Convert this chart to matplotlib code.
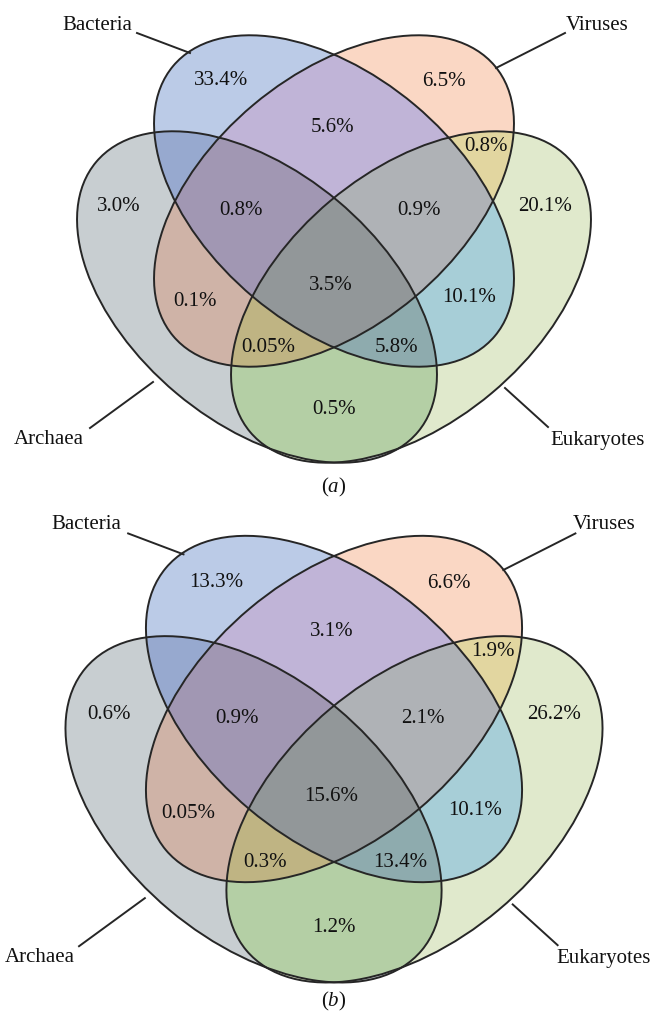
import numpy as np
import matplotlib
matplotlib.use("Agg")
import matplotlib.pyplot as plt
from matplotlib.patches import Ellipse

# four sets, one bit each
set_names = ["Bacteria", "Viruses", "Archaea", "Eukaryotes"]
set_keys = ["B", "V", "A", "E"]

# the 15 Venn regions (letters = sets the region belongs to)
regions = ["B", "V", "A", "E", "BV", "BA", "VA", "VE", "BE", "AE",
           "BVA", "BVE", "VAE", "BAE", "BVAE"]

# percentages per region, panel (a) and panel (b); None = not labelled
pct_a = [33.4, 6.5, 3.0, 20.1, 5.6, None, 0.1, 0.8, 10.1, 0.5,
         0.8, 0.9, 0.05, 5.8, 3.5]
pct_b = [13.3, 6.6, 0.6, 26.2, 3.1, None, 0.05, 1.9, 10.1, 1.2,
         0.9, 2.1, 0.3, 13.4, 15.6]

panel_tags = ["a", "b"]

# ---- layout / style ----
W, H = 654, 1015
ELL_W, ELL_H, ANG = 420, 251, 40
# ellipse centre offset (relative to inner-pair centre) and angle, per set
ell_geom = {"B": (0, 0, ANG), "V": (0, 0, -ANG),
            "A": (-77, 96, ANG), "E": (77, 96, -ANG)}
panel_pos = [(334, 201, 1.0), (334, 709, 1.045)]

region_colors = {
    "B": "#bbcbe8", "V": "#fad8c4", "A": "#c9ced2", "E": "#e0eacc",
    "BV": "#c0b5d8", "BA": "#97a9cf", "VA": "#cfb3a7", "VE": "#e3d6a0",
    "BE": "#a7ced8", "AE": "#b5cfa6", "BVA": "#a197b3", "BVE": "#afb2b6",
    "VAE": "#bfb583", "BAE": "#8eabae", "BVAE": "#92979a",
}
label_off = {
    "B": (-113, -123), "V": (110, -122), "A": (-215, 3), "E": (211, 3),
    "BV": (-2, -76), "BVA": (-93, 7), "BVE": (85, 7), "VE": (152, -57),
    "VA": (-139, 98), "BE": (135, 95), "BVAE": (-3, 82), "VAE": (-66, 145),
    "BAE": (63, 145), "AE": (0, 207),
}
name_off = {"B": (-237, -178), "V": (263, -178),
            "A": (-285, 236), "E": (264, 237)}
leader_off = {"B": ((-197, -168), (-144, -148)),
              "V": ((231, -168), (162, -133)),
              "A": ((-244, 227), (-181, 181)),
              "E": ((214, 226), (171, 187))}

plt.rcParams["font.family"] = ["Liberation Serif", "DejaVu Serif"]
plt.rcParams["mathtext.fontset"] = "custom"
plt.rcParams["mathtext.it"] = "Liberation Serif:italic"
plt.rcParams["mathtext.rm"] = "Liberation Serif"
FS = 15
EDGE = "#262626"
LW = 1.4


def fmt(v):
    return f"{v:.2f}%" if v < 0.1 else f"{v:.1f}%"


def inside(X, Y, cx, cy, w, h, ang):
    t = np.deg2rad(ang)
    dx, dy = X - cx, Y - cy
    u = dx * np.cos(t) + dy * np.sin(t)
    v = -dx * np.sin(t) + dy * np.cos(t)
    return (u / (w / 2)) ** 2 + (v / (h / 2)) ** 2 <= 1


fig = plt.figure(figsize=(W / 100, H / 100), dpi=100)
ax = fig.add_axes([0, 0, 1, 1])

# raster of region fills
xs = np.arange(0, W, 0.5) + 0.25
ys = np.arange(0, H, 0.5) + 0.25
X, Y = np.meshgrid(xs, ys)
img = np.ones(X.shape + (3,))

for (cx, cy, s), vals, tag in zip(panel_pos, [pct_a, pct_b], panel_tags):
    code = np.zeros(X.shape, dtype=int)
    for i, k in enumerate(set_keys):
        ox, oy, ang = ell_geom[k]
        code |= inside(X, Y, cx + ox * s, cy + oy * s,
                       ELL_W * s, ELL_H * s, ang).astype(int) << i
    for r in regions:
        bits = sum(1 << set_keys.index(c) for c in r)
        img[code == bits] = matplotlib.colors.to_rgb(region_colors[r])

    # outlines
    for k in set_keys:
        ox, oy, ang = ell_geom[k]
        ax.add_patch(Ellipse((cx + ox * s, cy + oy * s), ELL_W * s, ELL_H * s,
                             angle=ang, fill=False, ec=EDGE, lw=LW, zorder=3))

    # region percentages
    for r, v in zip(regions, vals):
        if v is None:
            continue
        dx, dy = label_off[r]
        ax.text(cx + dx * s, cy + dy * s + 2, fmt(v), fontsize=FS,
                ha="center", va="center", color="#111111", zorder=4)

    # set names + leader lines
    for k, name in zip(set_keys, set_names):
        dx, dy = name_off[k]
        x = min(max(cx + dx * s, 40), W - 50)   # keep names inside the figure
        ax.text(x, cy + dy * s + 2, name, fontsize=FS,
                ha="center", va="center", color="#111111", zorder=4)
        (x0, y0), (x1, y1) = leader_off[k]
        ax.plot([cx + x0 * s, cx + x1 * s], [cy + y0 * s, cy + y1 * s],
                color=EDGE, lw=LW, zorder=3)

    ax.text(cx, min(cy + 286 * s, H - 14), rf"($\mathit{{{tag}}}$)",
            fontsize=FS, ha="center", va="center", color="#111111")

ax.imshow(img, extent=(0, W, H, 0), origin="upper", zorder=1)
ax.set_xlim(0, W)
ax.set_ylim(H, 0)
ax.set_aspect("equal")
ax.axis("off")

fig.savefig("out.png", dpi=100)
